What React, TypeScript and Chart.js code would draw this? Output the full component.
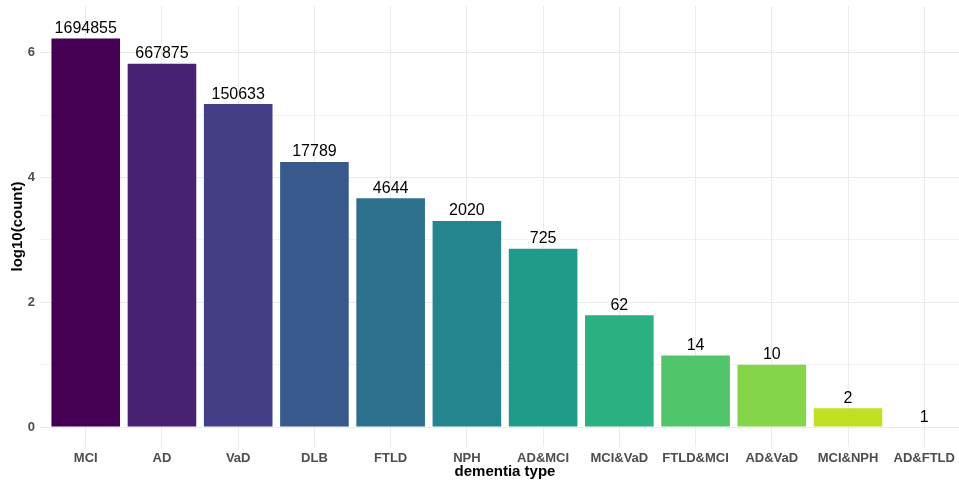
import React, { useEffect, useRef } from "react";
import { Chart, registerables } from "chart.js";

Chart.register(...registerables);

const categories = ["MCI", "AD", "VaD", "DLB", "FTLD", "NPH", "AD&MCI", "MCI&VaD", "FTLD&MCI", "AD&VaD", "MCI&NPH", "AD&FTLD"];
const counts = [1694855, 667875, 150633, 17789, 4644, 2020, 725, 62, 14, 10, 2, 1];
const logCounts = [6.229, 5.825, 5.178, 4.250, 3.667, 3.305, 2.860, 1.792, 1.146, 1.0, 0.301, 0.0];
const colors = ["#440154", "#482173", "#433E85", "#38598C", "#2D708E", "#25858E", "#1E9B8A", "#2BB07F", "#51C56A", "#85D54A", "#C2DF23", "#FDE725"];
const yTicks = [0, 1, 2, 3, 4, 5, 6];

const FONT = "'Liberation Sans', Arial, sans-serif";

const labelPlugin = {
  id: "barLabels",
  afterDatasetsDraw(chart: any) {
    const ctx = chart.ctx;
    const meta = chart.getDatasetMeta(0);
    ctx.save();
    ctx.font = `16px ${FONT}`;
    ctx.fillStyle = "#000000";
    ctx.textAlign = "center";
    ctx.textBaseline = "alphabetic";
    meta.data.forEach((el: any, i: number) => {
      ctx.fillText(String(counts[i]), el.x, el.y - 5.5);
    });
    ctx.restore();
  },
};

export default function App() {
  const ref = useRef<HTMLCanvasElement>(null);
  useEffect(() => {
    if (!ref.current) return;
    const chart = new Chart(ref.current, {
      type: "bar",
      data: {
        datasets: [
          {
            data: logCounts.map((v, i) => ({ x: i, y: v })),
            backgroundColor: colors,
            borderWidth: 0,
            barPercentage: 0.9,
            categoryPercentage: 1.0,
          },
        ],
      },
      plugins: [labelPlugin],
      options: {
        animation: false,
        responsive: false,
        layout: { padding: { top: 6, right: 0, left: 0, bottom: 0 } },
        plugins: { legend: { display: false }, tooltip: { enabled: false } },
        scales: {
          x: {
            type: "linear",
            min: -0.6,
            max: 11.6,
            offset: false,
            afterBuildTicks: (scale: any) => {
              scale.ticks = categories.map((_, i) => ({ value: i }));
            },
            afterFit: (scale: any) => {
              scale.height = 36;
              scale.paddingLeft = 0;
              scale.paddingRight = 0;
            },
            grid: { color: "#EBEBEB", lineWidth: 1, drawTicks: false, offset: false },
            border: { display: false },
            ticks: {
              autoSkip: false,
              maxRotation: 0,
              padding: 4,
              color: "#4D4D4D",
              font: { family: FONT, size: 13, weight: "bold" },
              callback: (v: any) => categories[Math.round(Number(v))] ?? "",
            },
            title: {
              display: true,
              text: "dementia type",
              color: "#000000",
              font: { family: FONT, size: 15, weight: "bold" },
              padding: { top: 0, bottom: 2 },
            },
          },
          y: {
            min: -0.32,
            max: 6.75,
            afterBuildTicks: (scale: any) => {
              scale.ticks = yTicks.map((v) => ({ value: v }));
            },
            afterFit: (scale: any) => {
              scale.width = 40;
              scale.paddingTop = 0;
              scale.paddingBottom = 0;
            },
            grid: {
              color: "#EBEBEB",
              lineWidth: (c: any) => (c.tick && c.tick.value % 2 === 0 ? 1 : 0.6),
              drawTicks: false,
            },
            border: { display: false },
            ticks: {
              padding: 5,
              color: "#4D4D4D",
              font: { family: FONT, size: 13, weight: "bold" },
              callback: (v: any) => (Number(v) % 2 === 0 ? String(v) : ""),
            },
            title: {
              display: true,
              text: "log10(count)",
              color: "#000000",
              font: { family: FONT, size: 15, weight: "bold" },
              padding: { top: 8.5, bottom: 0 },
            },
          },
        },
      },
    } as any);
    return () => chart.destroy();
  }, []);
  return (
    <div style={{ position: "fixed", left: 0, top: 0, width: 959, height: 483, overflow: "hidden", background: "#ffffff" }}>
      <canvas ref={ref} width={970} height={483} style={{ display: "block" }} />
    </div>
  );
}
